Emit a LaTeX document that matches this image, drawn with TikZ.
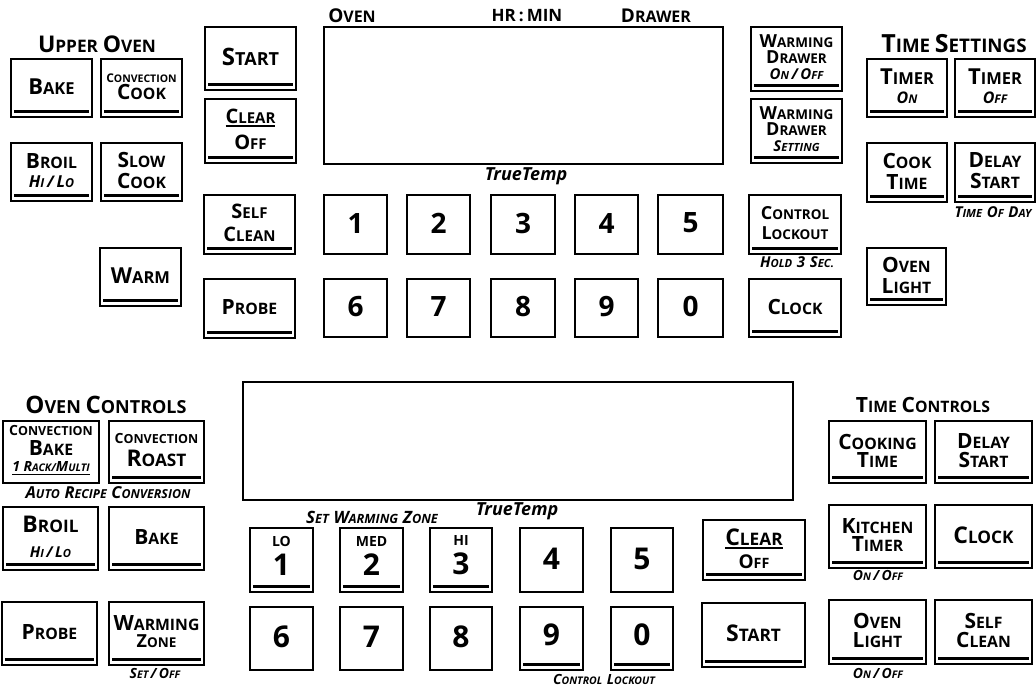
\documentclass[tikz,border=0pt]{standalone}
\usepackage{fontspec}
\setmainfont{Open Sans}
\newcommand\K[3][21]{{\fontsize{#1}{#1}\selectfont #2}{\fontsize{\fpeval{0.75*#1}}{#1}\selectfont #3}}
\newcommand\KI[3][14]{{\itshape\K[#1]{#2}{#3}}}
\newcommand\Kr[4]{{\fontsize{#1}{#1}\selectfont #3}{\fontsize{#2}{#1}\selectfont #4}}
\newcommand\SL[1][13]{{\itshape\fontsize{#1}{#1}\selectfont\,/\,}}
\newcommand\ul[1]{\leavevmode\vtop{\hbox{#1}\kern1.5pt\hrule height 1.6pt}}
\newcommand\keyb[8][]{%
  \node[keybox,#2,minimum width={#6-#4},minimum height={#7-#5}] (#3) at ({(#4+#6)/2},{(#5+#7)/2}) {};
  \node[keytxt,#1] (#3-t) at (#3.center) {#8};}
\tikzset{
  keybox/.style={draw, line width=1.8pt, inner sep=0pt},
  bar/.style={path picture={\fill ([shift={(3pt,4pt)}]path picture bounding box.south west) rectangle ([shift={(-3pt,7pt)}]path picture bounding box.south east);}},
  disp/.style={line width=2.3pt},
  keytxt/.style={align=center, inner sep=0pt, yshift=1.5pt, font=\bfseries\fontsize{12}{21}\selectfont},
  lsk/.style={font=\bfseries\fontsize{12}{#1}\selectfont},
  digit/.style={font=\bfseries\fontsize{28}{28}\selectfont, yshift=0pt},
  ldigit/.style={font=\bfseries\fontsize{30}{30}\selectfont, yshift=0pt},
  lab/.style={inner sep=0pt, font=\bfseries\fontsize{18}{18}\selectfont},
}
\begin{document}
\begin{tikzpicture}[x=1pt,y=-1pt]
\fill[white] (0,0) rectangle (1036,686);
\useasboundingbox (0,0) rectangle (1036,686);
% ---------- upper panel ----------
\node[lab] (hupper) at (97,44) {\K[23]{U}{PPER} \K[23]{O}{VEN}};
\node[lab] (htime) at (954,44) {\K[25]{T}{IME} \K[25]{S}{ETTINGS}};
\keyb{bar}{bake}{11}{59}{92}{117}{\K[22]{B}{AKE}}
\keyb[lsk=17]{bar}{cconv}{101}{59}{182}{117}{\Kr{12}{10.5}{C}{ONVECTION}\\\K{C}{OOK}}
\keyb[lsk=19]{bar}{broil}{11}{143}{92}{201}{\K{B}{ROIL}\\\KI[16.5]{H}{I}\SL[16]\KI[16.5]{L}{O}}
\keyb[lsk=21]{bar}{slow}{101}{143}{182}{201}{\K{S}{LOW}\\\K{C}{OOK}}
\keyb{bar}{warm}{100}{248}{181}{306}{\K[22]{W}{ARM}}
\keyb{bar}{start}{205}{27}{296}{90}{\K[24]{S}{TART}}
\keyb[lsk=26]{bar}{clear}{205}{99}{296}{163}{\ul{\K[20]{C}{LEAR}}\\\K[20]{O}{FF}}
\keyb[lsk=23]{bar}{self}{204}{195}{295}{254}{\K[20]{S}{ELF}\\\K[20]{C}{LEAN}}
\keyb{bar}{probe}{204}{279}{295}{338}{\K{P}{ROBE}}
\keyb{disp}{disp1}{324}{27}{723}{164}{}
\node[lab] (lov) at (352,16) {\Kr{19}{16}{O}{VEN}};
\node[lab] (lhr) at (527,16) {\fontsize{17}{17}\selectfont HR\hspace{3pt}:\hspace{3pt}MIN};
\node[lab] (ldr) at (656,16) {\Kr{19}{16}{D}{RAWER}};
\node[lab] (tt1) at (526,176) {\itshape\fontsize{18}{18}\selectfont TrueTemp};
\foreach \d/\xa/\xb in {1/324/387,2/407/470,3/491/555,4/575/638,5/658/723}
  {\keyb[digit]{}{u\d}{\xa}{195}{\xb}{254}{\d}}
\foreach \d/\xa/\xb in {6/324/387,7/407/470,8/491/555,9/575/638,0/658/723}
  {\keyb[digit]{}{u\d}{\xa}{279}{\xb}{337}{\d}}
\keyb[lsk=16]{bar}{wdon}{751}{27}{842}{91}{\K[18]{W}{ARMING}\\\K[18]{D}{RAWER}\\\KI[15]{O}{N}\SL[15]\KI[15]{O}{FF}}
\keyb[lsk=16]{bar}{wdset}{751}{99}{842}{163}{\K[18]{W}{ARMING}\\\K[18]{D}{RAWER}\\\KI[15]{S}{ETTING}}
\keyb[lsk=20]{bar}{lock}{749}{195}{841}{254}{\K[18]{C}{ONTROL}\\\K[18]{L}{OCKOUT}}
\node[lab] (hold) at (797,262) {\KI[15]{H}{OLD} {\itshape\fontsize{15}{15}\selectfont 3} \KI[15]{S}{EC.}};
\keyb{bar}{clock}{749}{279}{841}{337}{\K{C}{LOCK}}
\keyb[lsk=19]{bar}{tmon}{867}{59}{947}{117}{\K[22]{T}{IMER}\\\KI[16]{O}{N}}
\keyb[lsk=19]{bar}{tmoff}{955}{59}{1035}{117}{\K[22]{T}{IMER}\\\KI[16]{O}{FF}}
\keyb[lsk=21]{bar}{cook}{867}{143}{947}{202}{\K{C}{OOK}\\\K{T}{IME}}
\keyb[lsk=21]{bar}{delay}{955}{143}{1035}{202}{\K{D}{ELAY}\\\K{S}{TART}}
\node[lab] (tod) at (993,212) {\KI[15]{T}{IME} \KI[15]{O}{F} \KI[15]{D}{AY}};
\keyb[lsk=21]{bar}{olight}{867}{248}{946}{305}{\K{O}{VEN}\\\K{L}{IGHT}}
% ---------- lower panel ----------
\node[lab] (hovc) at (106,405) {\K[24]{O}{VEN} \K[24]{C}{ONTROLS}};
\node[lab] (htc) at (923,405) {\K[21]{T}{IME} \K[21]{C}{ONTROLS}};
\keyb[lsk=20,yshift=0pt]{}{cbake}{3}{421}{99}{483}{\Kr{14}{12.5}{C}{ONVECTION}\\\K[21]{B}{AKE}\\[-4pt]\ul{\KI[14]{1 R}{ACK}{\itshape\fontsize{11}{11}\selectfont/}\KI[14]{M}{ULTI}}}
\keyb[lsk=23]{bar}{croast}{109}{421}{204}{483}{\Kr{14}{12.5}{C}{ONVECTION}\\\K[23]{R}{OAST}}
\node[lab] (arc) at (108,493) {\KI[16.5]{A}{UTO} \KI[16.5]{R}{ECIPE} \KI[16.5]{C}{ONVERSION}};
\keyb[lsk=25]{bar}{broil2}{3}{507}{98}{570}{\K[23]{B}{ROIL}\\\KI[15]{H}{I}\SL[15]\KI[15]{L}{O}}
\keyb{bar}{bake2}{109}{507}{204}{570}{\K{B}{AKE}}
\keyb{bar}{probe2}{2}{602}{97}{665}{\K{P}{ROBE}}
\keyb[lsk=17]{bar}{wzone}{109}{602}{204}{665}{\K{W}{ARMING}\\\K[18]{Z}{ONE}}
\node[lab] (setoff) at (155,673) {\KI[14]{S}{ET}\SL[14]\KI[14]{O}{FF}};
\keyb{disp}{disp2}{243}{382}{793}{500}{}
\node[lab] (swz) at (372,517) {\KI[17]{S}{ET} \KI[17]{W}{ARMING} \KI[17]{Z}{ONE}};
\node[lab] (tt2) at (517,511) {\itshape\fontsize{18}{18}\selectfont TrueTemp};
\keyb[lsk=29,yshift=3pt]{bar}{l1}{250}{528}{313}{592}{{\fontsize{14}{14}\selectfont LO}\\{\fontsize{30}{30}\selectfont 1}}
\keyb[lsk=29,yshift=3pt]{bar}{l2}{340}{528}{403}{592}{{\fontsize{14}{14}\selectfont MED}\\{\fontsize{30}{30}\selectfont 2}}
\keyb[lsk=29,yshift=3pt]{bar}{l3}{430}{528}{492}{592}{{\fontsize{14}{14}\selectfont HI}\\{\fontsize{30}{30}\selectfont 3}}
\keyb[ldigit]{}{l4}{520}{528}{583}{592}{4}
\keyb[ldigit]{}{l5}{611}{528}{673}{592}{5}
\keyb[ldigit]{}{l6}{250}{607}{313}{670}{6}
\keyb[ldigit]{}{l7}{340}{607}{403}{670}{7}
\keyb[ldigit]{}{l8}{430}{607}{492}{670}{8}
\keyb[ldigit,yshift=2pt]{bar}{l9}{520}{607}{583}{670}{9}
\keyb[ldigit,yshift=2pt]{bar}{l0}{611}{607}{673}{670}{0}
\node[lab] (clk) at (604,679) {\KI[14]{C}{ONTROL} \KI[14]{L}{OCKOUT}};
\keyb[lsk=23]{bar}{clear2}{703}{520}{805}{580}{\ul{\K[23]{C}{LEAR}}\\\K[19]{O}{FF}}
\keyb{bar}{start2}{702}{603}{805}{667}{\K[23]{S}{TART}}
\keyb[lsk=18]{bar}{cooking}{829}{421}{926}{483}{\K{C}{OOKING}\\\K{T}{IME}}
\keyb[lsk=19]{bar}{delay2}{935}{421}{1032}{483}{\K{D}{ELAY}\\\K{S}{TART}}
\keyb[lsk=18]{bar}{ktimer}{829}{505}{926}{568}{\K{K}{ITCHEN}\\\K{T}{IMER}}
\node[lab] (onoff1) at (878,575) {\KI[14]{O}{N}\SL[14]\KI[14]{O}{FF}};
\keyb{bar}{clock2}{935}{505}{1032}{568}{\K[23]{C}{LOCK}}
\keyb[lsk=19]{bar}{olight2}{829}{600}{926}{664}{\K{O}{VEN}\\\K{L}{IGHT}}
\node[lab] (onoff2) at (878,673) {\KI[14]{O}{N}\SL[14]\KI[14]{O}{FF}};
\keyb[lsk=19]{bar}{sclean2}{935}{600}{1032}{664}{\K{S}{ELF}\\\K{C}{LEAN}}
\end{tikzpicture}
\end{document}
